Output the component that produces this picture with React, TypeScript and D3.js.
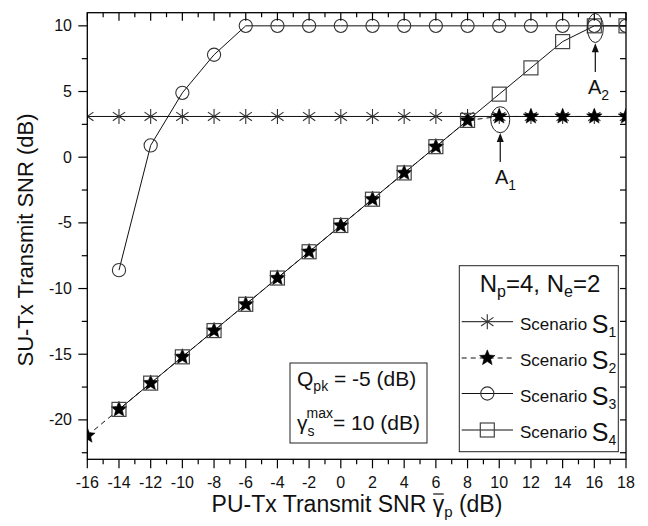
import React, { useLayoutEffect, useRef, useState } from "react";
import * as d3 from "d3";

const xMajor = [-16, -14, -12, -10, -8, -6, -4, -2, 0, 2, 4, 6, 8, 10, 12, 14, 16, 18];
const xMinor = [-15, -13, -11, -9, -7, -5, -3, -1, 1, 3, 5, 7, 9, 11, 13, 15, 17];
const yMajor = [-20, -15, -10, -5, 0, 5, 10];
const yMinor = [-22.5, -17.5, -12.5, -7.5, -2.5, 2.5, 7.5];

const s1X = [-16, -14, -12, -10, -8, -6, -4, -2, 0, 2, 4, 6, 8, 10, 12, 14, 16, 18];
const s1Y = [3.1, 3.1, 3.1, 3.1, 3.1, 3.1, 3.1, 3.1, 3.1, 3.1, 3.1, 3.1, 3.1, 3.1, 3.1, 3.1, 3.1, 3.1];
const s2X = [-16, -14, -12, -10, -8, -6, -4, -2, 0, 2, 4, 6, 8, 10, 12, 14, 16, 18];
const s2Y = [-21.2, -19.2, -17.2, -15.2, -13.2, -11.2, -9.2, -7.2, -5.2, -3.2, -1.2, 0.8, 2.8, 3.1, 3.1, 3.1, 3.1, 3.1];
const s3X = [-14, -12, -10, -8, -6, -4, -2, 0, 2, 4, 6, 8, 10, 12, 14, 16, 18];
const s3Y = [-8.6, 0.9, 4.9, 7.8, 10, 10, 10, 10, 10, 10, 10, 10, 10, 10, 10, 10, 10];
const s4X = [-14, -12, -10, -8, -6, -4, -2, 0, 2, 4, 6, 8, 10, 12, 14, 16, 18];
const s4Y = [-19.2, -17.2, -15.2, -13.2, -11.2, -9.2, -7.2, -5.2, -3.2, -1.2, 0.8, 2.8, 4.8, 6.8, 8.8, 10, 10];

const legendNames = ["1", "2", "3", "4"];

const W = 648, H = 526;
const L = 87.3, R = 626, T = 12.7, B = 459.3;
const FONT = "'Liberation Sans', Arial, sans-serif";
const LINE = "#111";
const MK = "#333";

const x = d3.scaleLinear().domain([-16, 18]).range([L, R]);
const y = d3.scaleLinear().domain([-23, 11]).range([B, T]);

const zip = (xs: number[], ys: number[]) => xs.map((v, i) => [v, ys[i]] as [number, number]);
const lineGen = d3.line<[number, number]>().x(d => x(d[0])).y(d => y(d[1]));

function asterisk(cx: number, cy: number, r = 7.5) {
  const angs = [90, 35, -35].map(a => (a * Math.PI) / 180);
  return angs
    .map(a => `M${cx - r * Math.cos(a)},${cy - r * Math.sin(a)}L${cx + r * Math.cos(a)},${cy + r * Math.sin(a)}`)
    .join("");
}
function star(cx: number, cy: number, R1 = 8.2, r1 = 3.6) {
  const pts: string[] = [];
  for (let i = 0; i < 10; i++) {
    const a = -Math.PI / 2 + (i * Math.PI) / 5;
    const rr = i % 2 === 0 ? R1 : r1;
    pts.push(`${cx + rr * Math.cos(a)},${cy + rr * Math.sin(a)}`);
  }
  return "M" + pts.join("L") + "Z";
}

function Marker({ kind, cx, cy }: { kind: number; cx: number; cy: number }) {
  if (kind === 0) return <path d={asterisk(cx, cy)} stroke={MK} strokeWidth={1.1} fill="none" />;
  if (kind === 1) return <path d={star(cx, cy)} fill="#000" stroke="#000" strokeWidth={0.5} />;
  if (kind === 2) return <circle cx={cx} cy={cy} r={6.6} fill="none" stroke={MK} strokeWidth={1.1} />;
  return <rect x={cx - 7} y={cy - 7} width={14} height={14} fill="none" stroke="#444" strokeWidth={1.2} />;
}

export default function App() {
  const titleRef = useRef<SVGTextElement>(null);
  const [bar, setBar] = useState<[number, number] | null>(null);
  useLayoutEffect(() => {
    const el = titleRef.current;
    if (!el) return;
    const txt = el.textContent || "";
    const i = txt.indexOf("γ");
    if (i < 0) return;
    try {
      const s = el.getStartPositionOfChar(i);
      const e = el.getEndPositionOfChar(i);
      setBar([s.x, e.x]);
    } catch (err) {
      /* ignore */
    }
  }, []);

  const series = [
    { d: zip(s1X, s1Y), dash: undefined as string | undefined },
    { d: zip(s2X, s2Y), dash: "5,4" },
    { d: zip(s3X, s3Y), dash: undefined },
    { d: zip(s4X, s4Y), dash: undefined },
  ];
  const legRows = [321.7, 358, 393.5, 430];
  const lx0 = 461.7, lx1 = 513, lmx = 487.3;
  const titleY = 512;
  return (
    <svg width={W} height={H} style={{ position: "absolute", left: 0, top: 0, background: "#fff" }} fontFamily={FONT}>
      <defs>
        <clipPath id="plot">
          <rect x={L} y={T} width={R - L} height={B - T} />
        </clipPath>
      </defs>
      <rect x={0} y={0} width={W} height={H} fill="#fff" />
      <g clipPath="url(#plot)">
        {series.map((s, i) => (
          <path key={"l" + i} d={lineGen(s.d) || ""} fill="none" stroke={LINE} strokeWidth={1} strokeDasharray={s.dash} />
        ))}
        {series.map((s, i) =>
          s.d.map((p, j) => <Marker key={"m" + i + "-" + j} kind={i} cx={x(p[0])} cy={y(p[1])} />)
        )}
      </g>
      <rect x={L} y={T} width={R - L} height={B - T} fill="none" stroke="#000" strokeWidth={1.3} />
      {xMajor.map(v => (
        <g key={"xb" + v}>
          <line x1={x(v)} x2={x(v)} y1={B} y2={B + 9} stroke="#000" strokeWidth={1.2} />
          <line x1={x(v)} x2={x(v)} y1={T} y2={T + 8} stroke="#000" strokeWidth={1.2} />
          <text x={x(v)} y={488} fontSize={16} textAnchor="middle" fill="#111">{v}</text>
        </g>
      ))}
      {xMinor.map(v => (
        <g key={"xm" + v}>
          <line x1={x(v)} x2={x(v)} y1={B} y2={B + 5} stroke="#000" strokeWidth={1.2} />
          <line x1={x(v)} x2={x(v)} y1={T} y2={T + 4.5} stroke="#000" strokeWidth={1.2} />
        </g>
      ))}
      {yMajor.map(v => (
        <g key={"yb" + v}>
          <line x1={L - 9} x2={L} y1={y(v)} y2={y(v)} stroke="#000" strokeWidth={1.2} />
          <line x1={R - 6} x2={R} y1={y(v)} y2={y(v)} stroke="#000" strokeWidth={1.2} />
          <text x={72} y={y(v) + 5.5} fontSize={16} textAnchor="end" fill="#111">{v}</text>
        </g>
      ))}
      {yMinor.map(v => (
        <g key={"ym" + v}>
          <line x1={L - 5.5} x2={L} y1={y(v)} y2={y(v)} stroke="#000" strokeWidth={1.2} />
          <line x1={R - 6} x2={R} y1={y(v)} y2={y(v)} stroke="#000" strokeWidth={1.2} />
        </g>
      ))}
      <text ref={titleRef} x={357} y={titleY} fontSize={23} textAnchor="middle" fill="#111">
        PU-Tx Transmit SNR γ<tspan fontSize={15} dy={5}>p</tspan><tspan dy={-5}> (dB)</tspan>
      </text>
      {bar && (
        <line x1={bar[0] + 0.5} x2={bar[1] - 0.5} y1={titleY - 18} y2={titleY - 18} stroke="#111" strokeWidth={1.2} />
      )}
      <text transform={`translate(33,240) rotate(-90)`} fontSize={22} textAnchor="middle" fill="#111">
        SU-Tx Transmit SNR (dB)
      </text>
      <ellipse cx={x(10) + 1} cy={119.7} rx={9.5} ry={13} fill="none" stroke="#222" strokeWidth={1} />
      <line x1={x(10) + 1} x2={x(10) + 1} y1={162} y2={140} stroke="#111" strokeWidth={1.2} />
      <path d={`M${x(10) + 1},133L${x(10) + 1 - 3.5},142L${x(10) + 1 + 3.5},142Z`} fill="#111" />
      <text x={495} y={184} fontSize={20} fill="#111">A<tspan fontSize={14} dy={6}>1</tspan></text>
      <ellipse cx={x(16) + 1} cy={28} rx={8} ry={14.5} fill="none" stroke="#222" strokeWidth={1} />
      <line x1={x(16) + 1} x2={x(16) + 1} y1={72} y2={50} stroke="#111" strokeWidth={1.2} />
      <path d={`M${x(16) + 1},43.3L${x(16) + 1 - 3.5},52.3L${x(16) + 1 + 3.5},52.3Z`} fill="#111" />
      <text x={588} y={94} fontSize={20} fill="#111">A<tspan fontSize={14} dy={6}>2</tspan></text>
      <rect x={290} y={363} width={137} height={80} fill="#fff" stroke="#222" strokeWidth={1} />
      <text x={297} y={386} fontSize={21} fill="#111">
        Q<tspan fontSize={14} dy={5}>pk</tspan><tspan dy={-5}> = -5 (dB)</tspan>
      </text>
      <text x={297} y={430} fontSize={21} fill="#111">
        γ<tspan fontSize={14} dy={6}>s</tspan>
        <tspan fontSize={14} dx={-8} dy={-18}>max</tspan>
        <tspan dy={12}>= 10 (dB)</tspan>
      </text>
      <rect x={459.3} y={265.7} width={159} height={186} fill="#fff" stroke="#222" strokeWidth={1} />
      <text x={540} y={292} fontSize={24} textAnchor="middle" fill="#111">
        N<tspan fontSize={16} dy={5}>p</tspan><tspan dy={-5}>=4, N</tspan><tspan fontSize={16} dy={5}>e</tspan><tspan dy={-5}>=2</tspan>
      </text>
      {legendNames.map((nm, i) => (
        <g key={"lg" + i}>
          <line x1={lx0} x2={lx1} y1={legRows[i]} y2={legRows[i]} stroke={LINE} strokeWidth={1} strokeDasharray={i === 1 ? "5,4" : undefined} />
          <Marker kind={i} cx={lmx} cy={legRows[i]} />
          <text x={520} y={legRows[i] + 8.3} fontSize={17} fill="#111">
            Scenario <tspan fontSize={25} dy={3}>S</tspan><tspan fontSize={14} dy={4}>{nm}</tspan>
          </text>
        </g>
      ))}
    </svg>
  );
}
